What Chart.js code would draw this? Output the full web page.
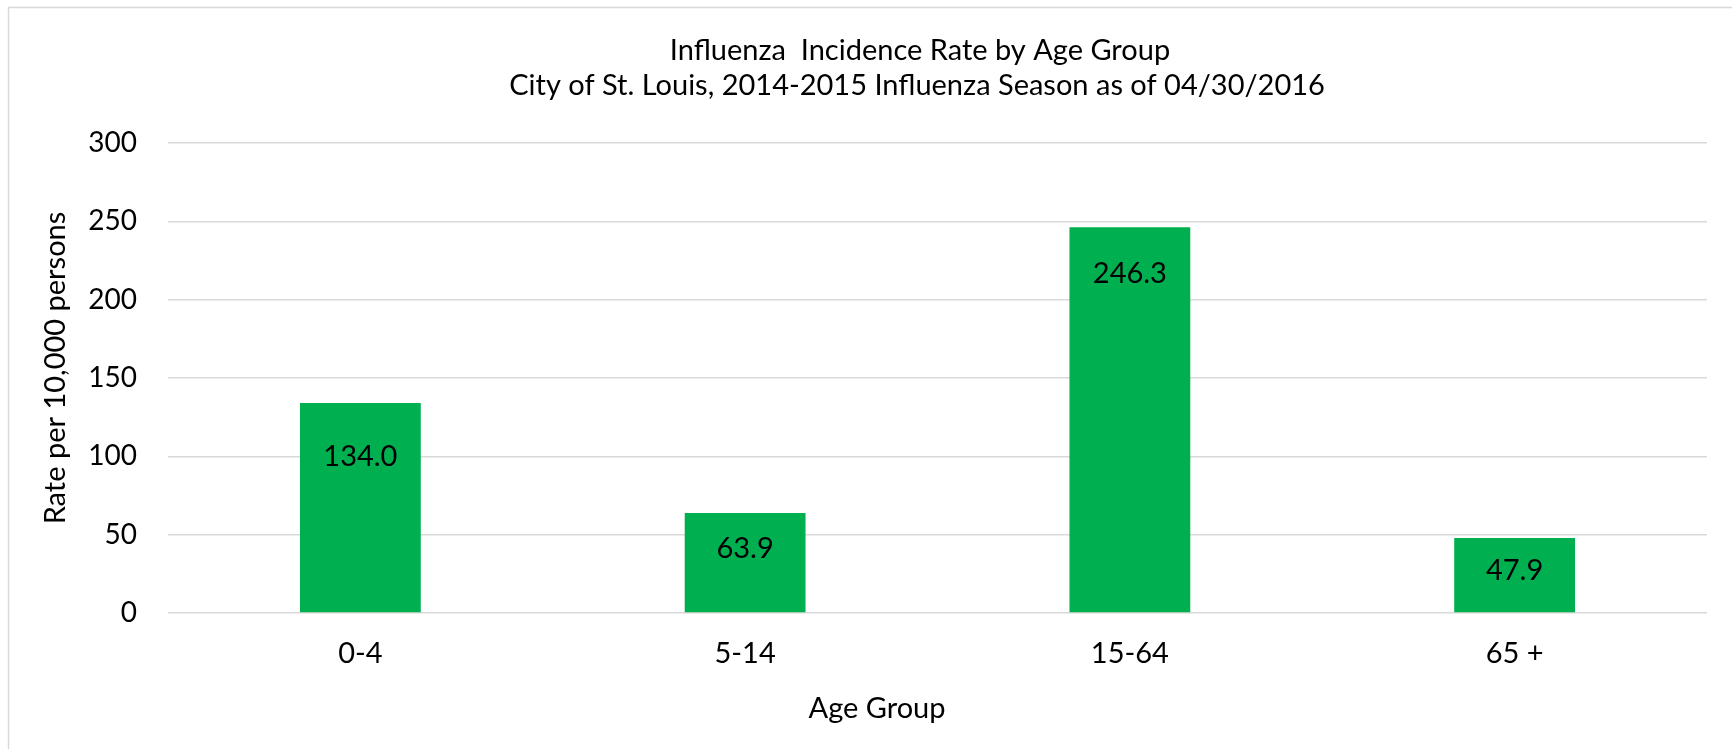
<!DOCTYPE html>
<html>
<head>
<meta charset="utf-8">
<script src="https://cdn.jsdelivr.net/npm/chart.js@4.4.0/dist/chart.umd.min.js"></script>
<style>
  html, body { margin: 0; padding: 0; background: #fff; }
  #wrap { width: 1732px; height: 749px; position: relative; }
</style>
</head>
<body>
<div id="wrap"><canvas id="c" width="1732" height="749"></canvas></div>
<script>
const categories = ["0-4", "5-14", "15-64", "65 +"];
const rates = [134.0, 63.9, 246.3, 47.9];
const yTicks = [0, 50, 100, 150, 200, 250, 300];
const titleLines = ["Influenza  Incidence Rate by Age Group", "City of St. Louis, 2014-2015 Influenza Season as of 04/30/2016"];
const yTitle = "Rate per 10,000 persons";
const xTitle = "Age Group";

const FONT = "Lato, 'Open Sans', sans-serif";
const FS = 29;

const decorPlugin = {
  id: 'decor',
  beforeDraw(chart) {
    const ctx = chart.ctx;
    ctx.save();
    ctx.strokeStyle = '#d9d9d9';
    ctx.lineWidth = 1.5;
    ctx.beginPath();
    ctx.moveTo(8.5, 749);
    ctx.lineTo(8.5, 7.5);
    ctx.lineTo(1732, 7.5);
    ctx.stroke();
    ctx.restore();
  },
  afterDraw(chart, args, opts) {
    const ctx = chart.ctx;
    ctx.save();
    ctx.fillStyle = '#000';
    ctx.font = FS + 'px ' + FONT;
    ctx.textAlign = 'center';
    ctx.textBaseline = 'alphabetic';
    ctx.fillText(titleLines[0], 920, 60);
    ctx.fillText(titleLines[1], 917, 95);
    ctx.fillText(xTitle, 877, 718);
    ctx.save();
    ctx.translate(65, 368);
    ctx.rotate(-Math.PI / 2);
    ctx.fillText(yTitle, 0, 0);
    ctx.restore();
    const meta = chart.getDatasetMeta(0);
    meta.data.forEach((bar, i) => {
      const v = chart.data.datasets[0].data[i];
      ctx.fillText(v.toFixed(1), bar.x, bar.y + opts.labelDrop[i]);
    });
    ctx.restore();
  }
};

new Chart(document.getElementById('c'), {
  type: 'bar',
  data: {
    labels: categories,
    datasets: [{
      data: rates,
      backgroundColor: '#00b050',
      borderWidth: 0,
      categoryPercentage: 1.0,
      barPercentage: 0.314
    }]
  },
  options: {
    responsive: false,
    animation: false,
    devicePixelRatio: 1,
    layout: { padding: { top: 143, right: 25, left: 0, bottom: 0 } },
    plugins: {
      legend: { display: false },
      title: { display: false },
      tooltip: { enabled: false },
      decor: { labelDrop: [62.7, 44.7, 56.3, 41.7] }
    },
    scales: {
      x: {
        grid: { display: false, drawTicks: false },
        border: { display: false },
        ticks: { color: '#000', font: { family: FONT, size: FS }, padding: 23 },
        afterFit(scale) { scale.height = 136; }
      },
      y: {
        min: 0, max: 300,
        afterBuildTicks(scale) { scale.ticks = yTicks.map(v => ({ value: v })); },
        grid: { color: '#d9d9d9', lineWidth: 1.5, drawTicks: false },
        border: { display: false },
        ticks: { color: '#000', font: { family: FONT, size: 28 }, padding: 31 },
        afterFit(scale) { scale.width = 168; }
      }
    }
  },
  plugins: [decorPlugin]
});
</script>
</body>
</html>
